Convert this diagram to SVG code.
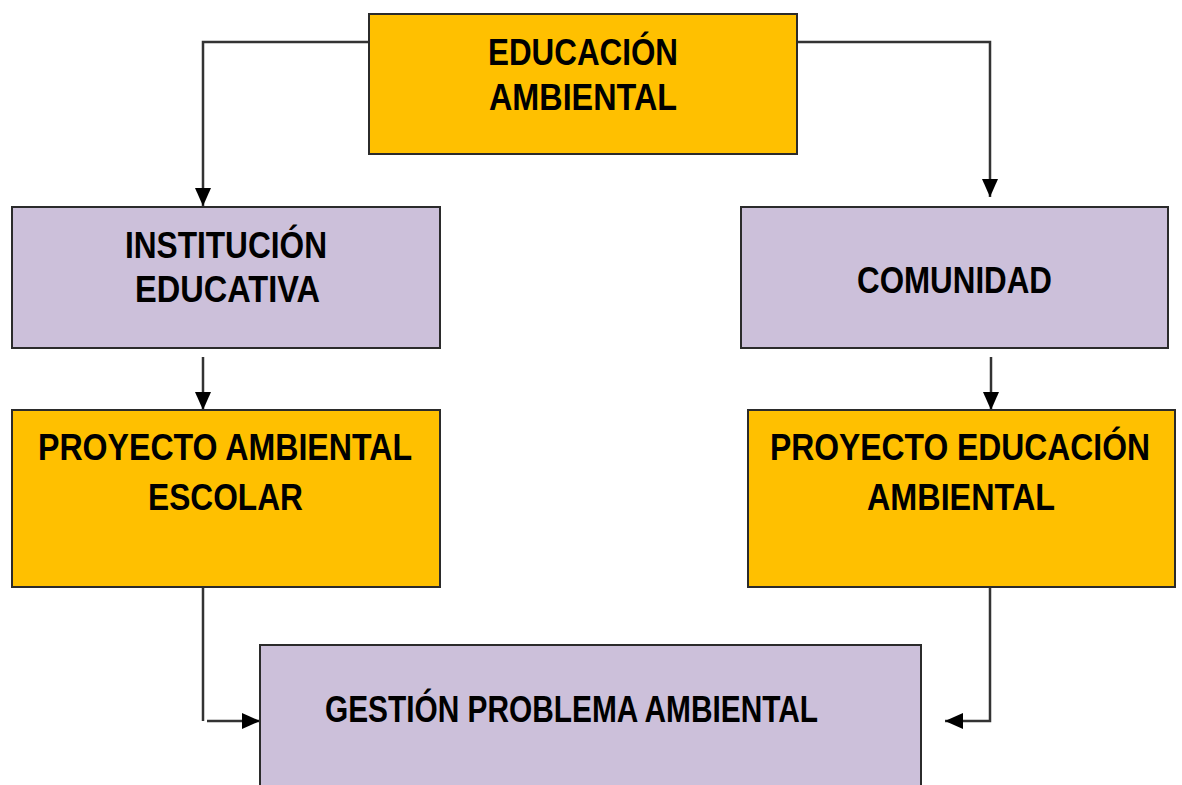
<svg xmlns="http://www.w3.org/2000/svg" width="1182" height="785" viewBox="0 0 1182 785">
<style>
.box{stroke:#2b2b2b;stroke-width:2}
.or{fill:#FFC000}
.pu{fill:#CCC0DA}
.t{font-family:"Liberation Sans Narrow","Arial Narrow","Liberation Sans",Arial,sans-serif;font-weight:bold;font-size:37px;fill:#000;text-anchor:middle}
.c{fill:none;stroke:#333;stroke-width:2.5}
</style>
<defs>
<marker id="ah" markerUnits="userSpaceOnUse" viewBox="0 0 18 16" markerWidth="18" markerHeight="16" refX="18" refY="8" orient="auto">
<path d="M0,0 L18,8 L0,16 z" fill="#000"/>
</marker>
</defs>
<rect width="1182" height="785" fill="#fff"/>
<g id="connectors">
<path class="c" d="M369,42 H203 V206" marker-end="url(#ah)"/>
<path class="c" d="M797,42 H990 V197" marker-end="url(#ah)"/>
<path class="c" d="M203,357 V410" marker-end="url(#ah)"/>
<path class="c" d="M991,357 V410" marker-end="url(#ah)"/>
<path class="c" d="M203,588 V721"/>
<path class="c" d="M207,721 H260" stroke-width="3.5" marker-end="url(#ah)"/>
<path class="c" d="M990,588 V721 H945" marker-end="url(#ah)"/>
</g>
<g id="educacion-ambiental">
<rect class="box or" x="369" y="14" width="428" height="140"/>
<text class="t" x="583" y="65" textLength="190" lengthAdjust="spacingAndGlyphs">EDUCACIÓN</text>
<text class="t" x="583" y="110" textLength="188" lengthAdjust="spacingAndGlyphs">AMBIENTAL</text>
</g>
<g id="institucion-educativa">
<rect class="box pu" x="12" y="207" width="428" height="141"/>
<text class="t" x="226" y="258" textLength="202" lengthAdjust="spacingAndGlyphs">INSTITUCIÓN</text>
<text class="t" x="227.5" y="302" textLength="185" lengthAdjust="spacingAndGlyphs">EDUCATIVA</text>
</g>
<g id="comunidad">
<rect class="box pu" x="741" y="207" width="427" height="141"/>
<text class="t" x="954.5" y="293" textLength="195" lengthAdjust="spacingAndGlyphs">COMUNIDAD</text>
</g>
<g id="proyecto-ambiental-escolar">
<rect class="box or" x="12" y="410" width="428" height="177"/>
<text class="t" x="225" y="460" textLength="374" lengthAdjust="spacingAndGlyphs">PROYECTO AMBIENTAL</text>
<text class="t" x="225.5" y="510" textLength="155" lengthAdjust="spacingAndGlyphs">ESCOLAR</text>
</g>
<g id="proyecto-educacion-ambiental">
<rect class="box or" x="748" y="410" width="427" height="177"/>
<text class="t" x="960" y="460" textLength="380" lengthAdjust="spacingAndGlyphs">PROYECTO EDUCACIÓN</text>
<text class="t" x="961" y="510" textLength="188" lengthAdjust="spacingAndGlyphs">AMBIENTAL</text>
</g>
<g id="gestion-problema-ambiental">
<rect class="box pu" x="260" y="645" width="661" height="160"/>
<text class="t" x="571.5" y="722" textLength="493" lengthAdjust="spacingAndGlyphs">GESTIÓN PROBLEMA AMBIENTAL</text>
</g>
</svg>
